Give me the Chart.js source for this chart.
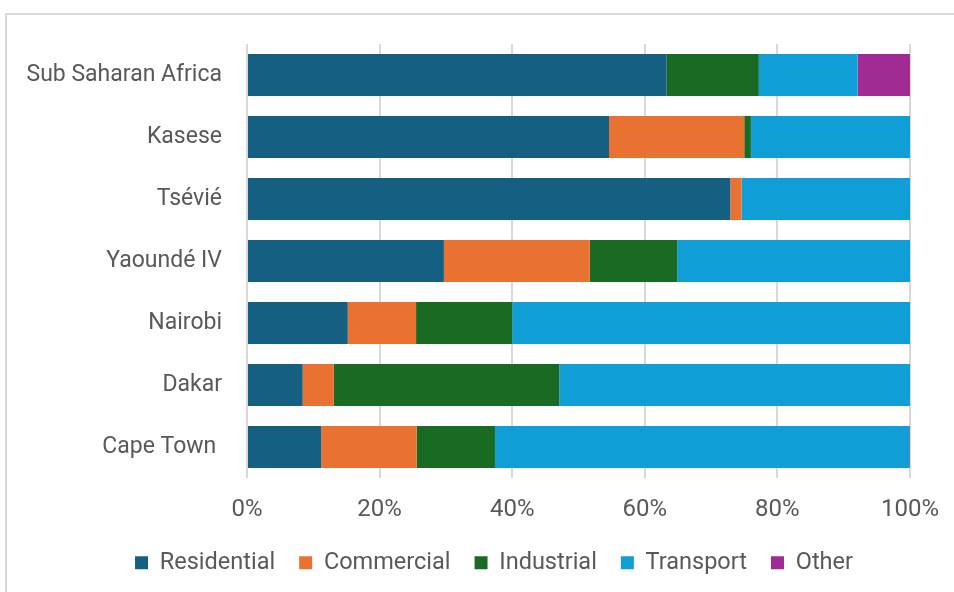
<!DOCTYPE html>
<html>
<head>
<meta charset="utf-8">
<script src="https://cdn.jsdelivr.net/npm/chart.js@4/dist/chart.umd.min.js"></script>
<style>
  html, body { margin: 0; padding: 0; background: #fff; overflow: hidden; }
  #frame {
    position: absolute; left: 5px; top: 13px; width: 1000px; height: 650px;
    border: 2px solid #d9d9d9; box-sizing: border-box;
  }
  #wrap { position: absolute; left: 0; top: 0; width: 954px; height: 592px; }
</style>
</head>
<body>
<div id="frame"></div>
<div id="wrap"><canvas id="chart" width="954" height="592"></canvas></div>
<script>
// Energy use by sector, share of total (%)
const cities = ['Sub Saharan Africa', 'Kasese', 'Tsévié', 'Yaoundé IV', 'Nairobi', 'Dakar', 'Cape Town '];
const residential = [63.3, 54.6, 72.9, 29.7, 15.2, 8.4, 11.2];
const commercial  = [0,    20.4, 1.7,  22.0, 10.3, 4.7, 14.4];
const industrial  = [13.9, 1.0,  0,    13.2, 14.5, 34.0, 11.8];
const transport   = [14.9, 24.0, 25.4, 35.1, 60.0, 52.9, 62.5];
const other       = [7.9,  0,    0,    0,    0,    0,    0.1];
const percentTicks = [0, 20, 40, 60, 80, 100];

const font = "Roboto, 'Noto Sans', sans-serif";
const textColor = '#595959';

const series = [
  { label: 'Residential', data: residential, color: '#156082' },
  { label: 'Commercial',  data: commercial,  color: '#E97132' },
  { label: 'Industrial',  data: industrial,  color: '#196B24' },
  { label: 'Transport',   data: transport,   color: '#0F9ED5' },
  { label: 'Other',       data: other,       color: '#A02B93' }
];

// legend sits a bit right of centre, under the bars
const legendShift = {
  id: 'legendShift',
  afterLayout(chart) {
    const lg = chart.legend;
    if (!lg) return;
    lg.left += 78;
    if (lg.adjustHitBoxes) lg.adjustHitBoxes();
  }
};

new Chart(document.getElementById('chart'), {
  type: 'bar',
  data: {
    labels: cities,
    datasets: series.map(s => ({
      label: s.label,
      data: s.data,
      backgroundColor: s.color,
      borderWidth: 0,
      categoryPercentage: 1,
      barPercentage: 0.68
    }))
  },
  options: {
    indexAxis: 'y',
    responsive: false,
    animation: false,
    layout: { padding: { top: 44, right: 44, bottom: 7.5, left: 0 } },
    scales: {
      x: {
        stacked: true,
        min: 0,
        max: 100,
        afterBuildTicks: axis => { axis.ticks = percentTicks.map(v => ({ value: v })); },
        afterFit: axis => {
          axis.height = 49;
          // let the "100%" label hang into the right margin
          axis.paddingLeft = 0;
          axis.paddingRight = 0;
        },
        grid: { color: '#d9d9d9', lineWidth: 2, drawTicks: false },
        border: { display: false },
        ticks: {
          padding: 18,
          color: textColor,
          font: { family: font, size: 24 },
          callback: v => v + '%'
        }
      },
      y: {
        stacked: true,
        afterFit: axis => { axis.width = 247; },
        grid: { display: false },
        border: { display: false },
        ticks: {
          padding: 17,
          color: textColor,
          font: { family: font, size: 23 }
        }
      }
    },
    plugins: {
      legend: {
        position: 'bottom',
        labels: {
          boxWidth: 13,
          boxHeight: 13,
          padding: 24,
          color: textColor,
          font: { family: font, size: 23.5 }
        }
      },
      tooltip: { enabled: false }
    }
  },
  plugins: [legendShift]
});
</script>
</body>
</html>
